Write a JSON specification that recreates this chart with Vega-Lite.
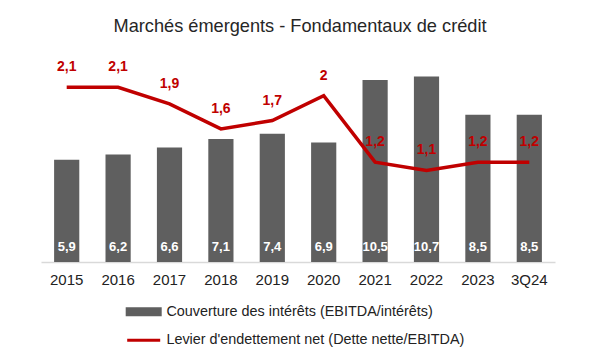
{
  "$schema": "https://vega.github.io/schema/vega-lite/v6.json",
  "width": 514,
  "height": 208,
  "autosize": {"type": "none"},
  "padding": {"left": 41, "top": 54, "right": 45, "bottom": 98},
  "background": "white",
  "title": {
    "text": "Marchés émergents - Fondamentaux de crédit",
    "font": "Liberation Sans",
    "fontSize": 18.2,
    "fontWeight": "normal",
    "color": "#262626",
    "anchor": "middle",
    "offset": 18,
    "dx": 2
  },
  "config": {
    "locale": {"number": {"decimal": ",", "thousands": " ", "grouping": [3], "currency": ["", " €"]}},
    "view": {"stroke": null},
    "font": "Liberation Sans"
  },
  "data": {
    "values": [
      {"year": "2015", "couverture": 5.9, "levier": 2.1},
      {"year": "2016", "couverture": 6.2, "levier": 2.1},
      {"year": "2017", "couverture": 6.6, "levier": 1.9},
      {"year": "2018", "couverture": 7.1, "levier": 1.6},
      {"year": "2019", "couverture": 7.4, "levier": 1.7},
      {"year": "2020", "couverture": 6.9, "levier": 2.0},
      {"year": "2021", "couverture": 10.5, "levier": 1.2},
      {"year": "2022", "couverture": 10.7, "levier": 1.1},
      {"year": "2023", "couverture": 8.5, "levier": 1.2},
      {"year": "3Q24", "couverture": 8.5, "levier": 1.2}
    ]
  },
  "encoding": {
    "x": {
      "field": "year",
      "type": "nominal",
      "sort": null,
      "scale": {"paddingInner": 0.51, "paddingOuter": 0.255},
      "axis": {
        "title": null,
        "labelAngle": 0,
        "labelFont": "Liberation Sans",
        "labelFontSize": 15,
        "labelColor": "#222222",
        "labelPadding": 10,
        "ticks": false,
        "grid": false,
        "domainColor": "#d9d9d9",
        "domainWidth": 1.5
      }
    }
  },
  "layer": [
    {
      "encoding": {
        "y": {"field": "couverture", "type": "quantitative", "scale": {"domain": [0, 12], "nice": false}, "axis": null}
      },
      "layer": [
        {
          "mark": {"type": "bar", "color": "#5f5f5f"},
          "encoding": {
            "color": {
              "datum": "Couverture des intérêts (EBITDA/intérêts)",
              "type": "nominal",
              "scale": {
                "domain": ["Couverture des intérêts (EBITDA/intérêts)", "Levier d'endettement net (Dette nette/EBITDA)"],
                "range": ["#5f5f5f", "#c00000"]
              },
              "legend": {
                "orient": "none",
                "legendX": 95.5,
                "legendY": 250.5,
                "direction": "vertical",
                "title": null,
                "padding": 0,
                "labelFont": "Liberation Sans",
                "labelFontSize": 14.4,
                "labelColor": "#222222",
                "labelLimit": 400,
                "symbolSize": 100,
                "rowPadding": 10.6,
                "labelOffset": 15.5,
                "encode": {
                  "symbols": {
                    "update": {
                      "shape": {"signal": "datum.index === 0 ? 'M-3.3,-0.6H3.3V0.6H-3.3Z' : 'M-3.3,0H3.3'"},
                      "fill": {"signal": "datum.index === 0 ? '#5f5f5f' : 'transparent'"},
                      "stroke": {"signal": "datum.index === 0 ? 'transparent' : '#c00000'"},
                      "strokeWidth": {"value": 3},
                      "opacity": {"value": 1}
                    }
                  }
                }
              }
            }
          }
        },
        {
          "mark": {"type": "text", "color": "white", "fontWeight": "bold", "fontSize": 13, "font": "Liberation Sans", "baseline": "middle", "dy": -15.5},
          "encoding": {
            "y": {"datum": 0, "type": "quantitative"},
            "text": {"field": "couverture", "type": "quantitative", "format": ".1f"}
          }
        }
      ]
    },
    {
      "encoding": {
        "y": {"field": "levier", "type": "quantitative", "scale": {"domain": [0, 2.5], "nice": false}, "axis": null}
      },
      "layer": [
        {
          "mark": {"type": "line", "strokeWidth": 3.5, "color": "#c00000"},
          "encoding": {
            "color": {"datum": "Levier d'endettement net (Dette nette/EBITDA)", "type": "nominal"}
          }
        },
        {
          "mark": {"type": "text", "color": "#c00000", "fontWeight": "bold", "fontSize": 14, "font": "Liberation Sans", "baseline": "middle", "dy": -20},
          "encoding": {
            "text": {"field": "levier", "type": "quantitative", "format": ".2~r"}
          }
        }
      ]
    }
  ],
  "resolve": {"scale": {"y": "independent"}}
}
